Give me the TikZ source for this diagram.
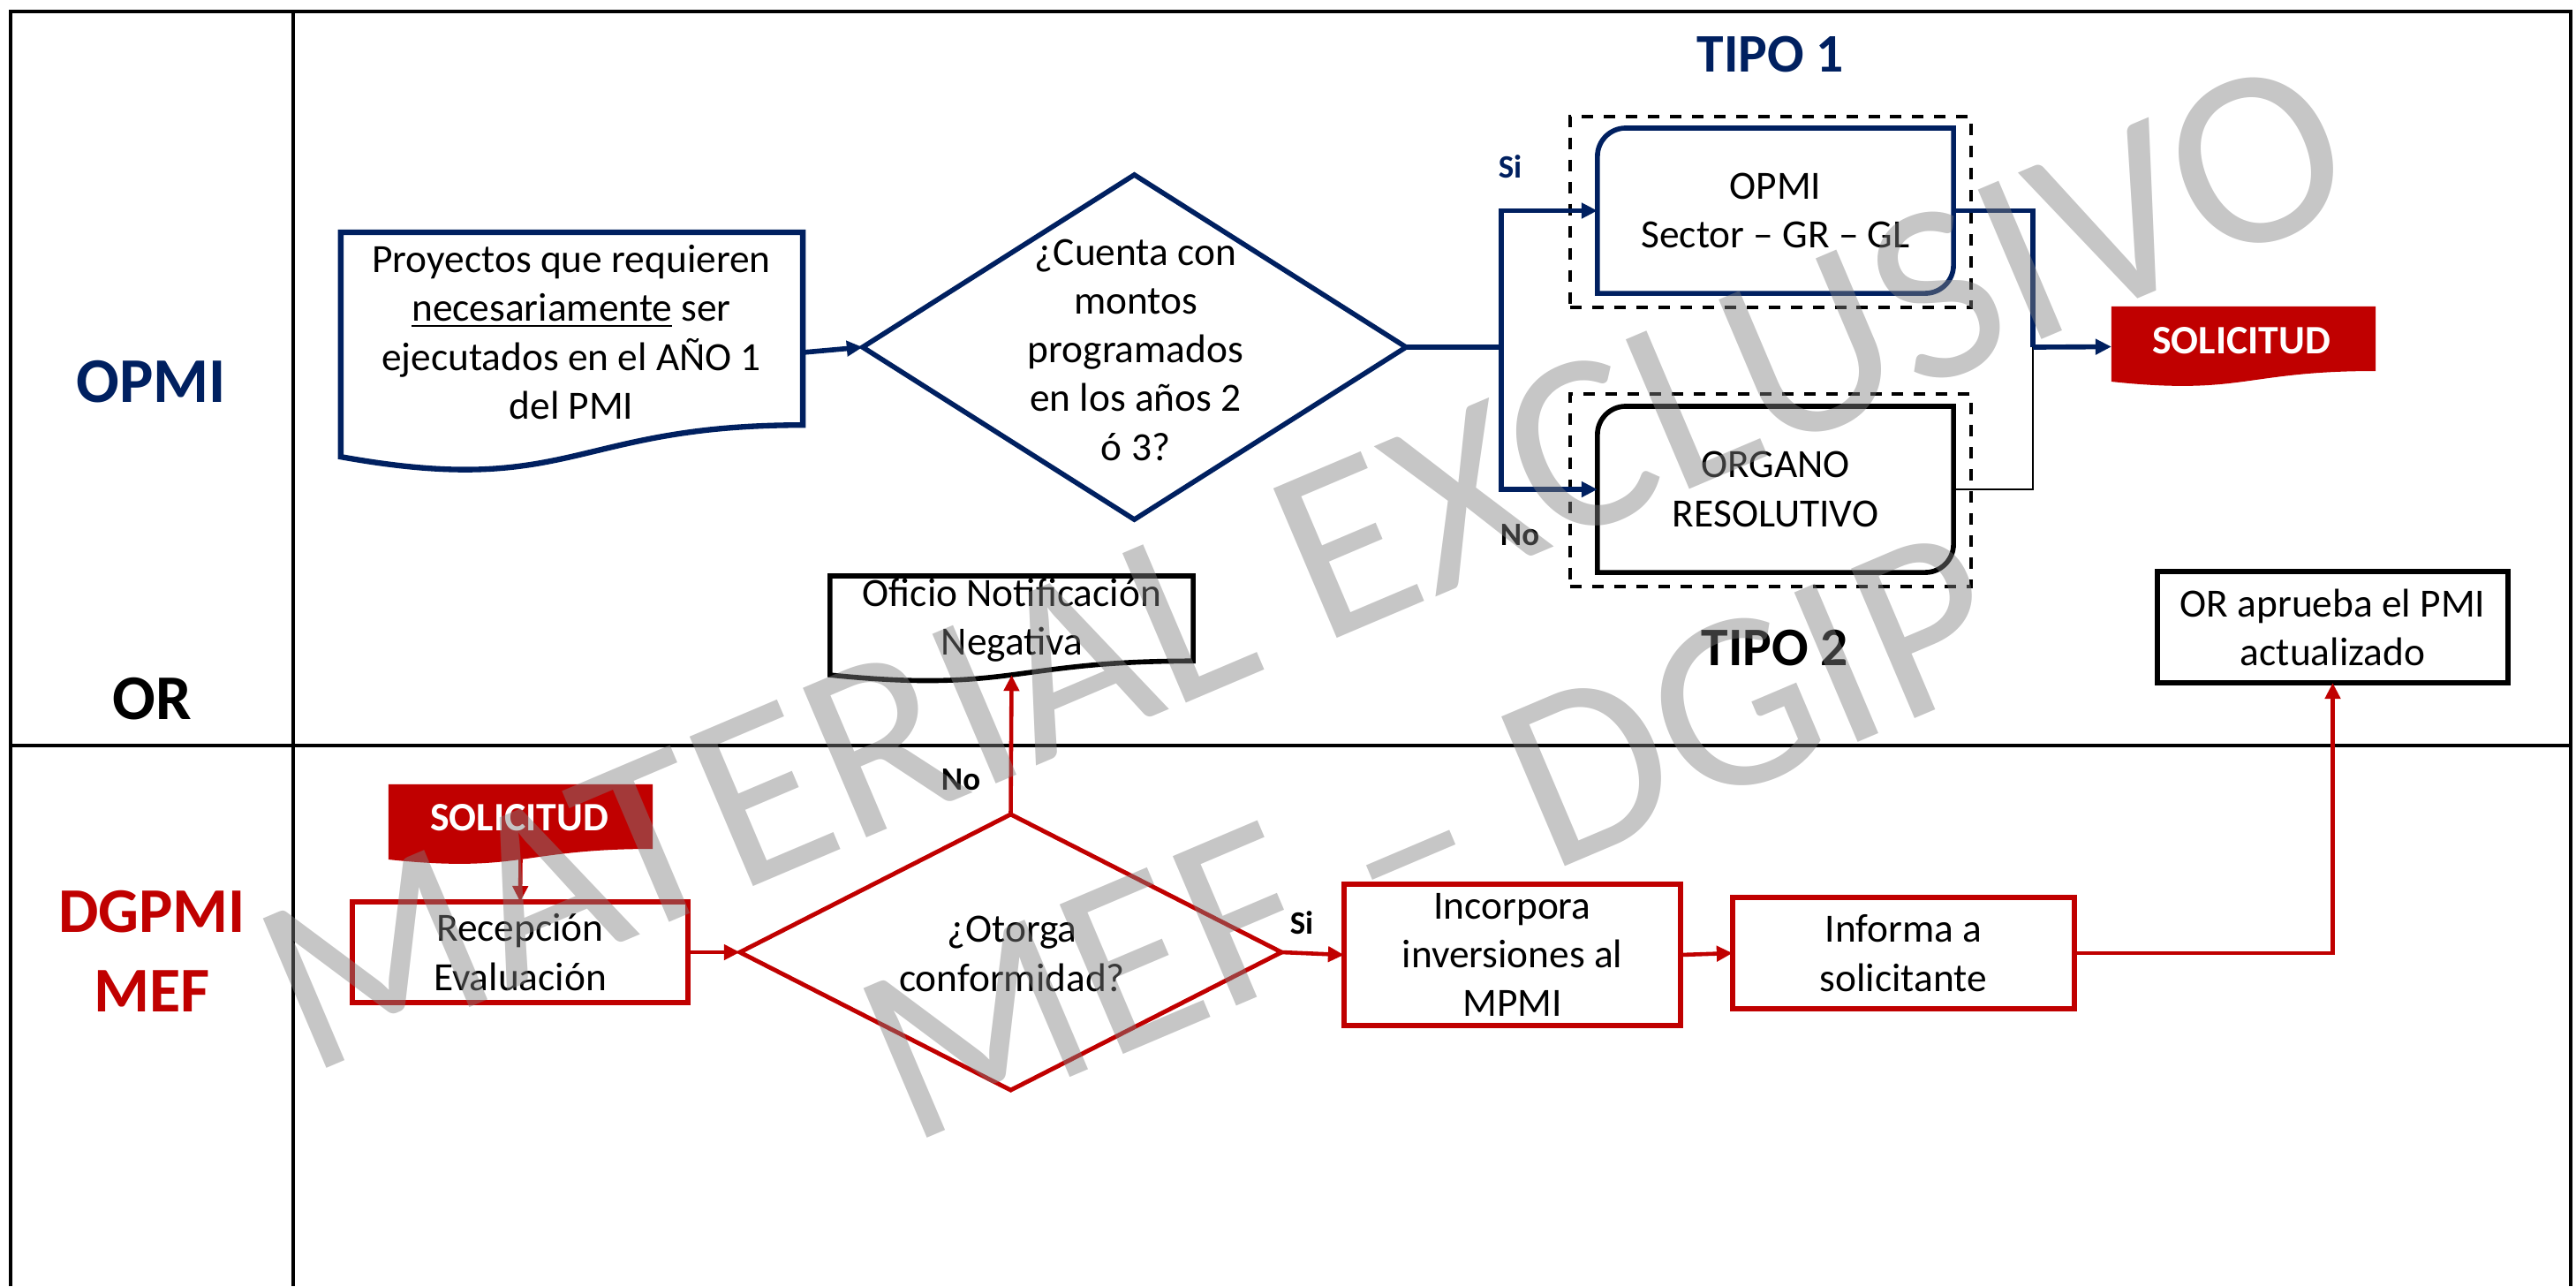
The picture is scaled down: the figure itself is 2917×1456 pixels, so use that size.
\documentclass[tikz,border=0pt]{standalone}
\usepackage{fontspec}
\setmainfont{Carlito}
\usetikzlibrary{arrows.meta,shapes.geometric,calc}
\definecolor{navy}{RGB}{0,32,96}
\definecolor{myred}{RGB}{192,0,0}
\definecolor{wmgray}{RGB}{128,128,128}
\newcommand\docpath[2]{\path[#1] (#2.north west) -- (#2.north east) -- ($(#2.north east)!0.802!(#2.south east)$) .. controls ($(#2.north)!0.802!(#2.south)$) and ($(#2.north)!1.1075!(#2.south)$) .. ($(#2.north west)!0.934!(#2.south west)$) -- cycle;}
\newcommand\rdiag[3]{\draw[#1] (#2.south west) -- ([yshift=-#3]#2.north west) arc[start angle=180,end angle=90,radius=#3] -- (#2.north east) -- ([yshift=#3]#2.south east) arc[start angle=0,end angle=-90,radius=#3] -- cycle;}
\begin{document}
\begin{tikzpicture}[x=0.01cm,y=-0.01cm,
  every node/.style={outer sep=0pt,inner sep=0pt},
  body/.style={font=\fontsize{12.9}{15.7}\selectfont,align=center},
  lab/.style={font=\bfseries\fontsize{10.5}{12}\selectfont},
  lane/.style={font=\bfseries\fontsize{20.5}{24}\selectfont},
  tipo/.style={font=\bfseries\fontsize{17.5}{20}\selectfont},
  soltxt/.style={font=\bfseries\fontsize{13}{15}\selectfont,text=white},
  nav/.style={draw=navy,line width=1.6pt},
  redl/.style={draw=myred,line width=1.3pt},
  tip/.style={-{Triangle[length=0.18cm,width=0.17cm]}},
  grid/.style={line width=0.9pt},
  dashbox/.style={draw,line width=1pt,dash pattern=on 3.7pt off 3.4pt},
  redbox/.style={draw=myred,line width=1.5pt,body},
  wm/.style={font=\fontsize{81.5}{98}\selectfont,text=wmgray,text opacity=0.45,anchor=base west,rotate=23.0}
]
\useasboundingbox (0,0) rectangle (2917,1456);
% lanes frame
\draw[grid] (12,1456) -- (12,13) -- (2911,13) -- (2911,1456);
\draw[grid] (332,13) -- (332,1456);
\draw[grid] (12,844) -- (2911,844);
% lane labels
\node[lane,text=navy] (lopmi) at (171,432) {OPMI};
\node[lane] (lor) at (172,791) {OR};
\node[lane,text=myred] (ldg) at (172,1032) {DGPMI};
\node[lane,text=myred] (lmef) at (172,1122) {MEF};
% top lane
\node[minimum width=5.23cm,minimum height=2.72cm] (doc1) at (647.5,399) {};
\docpath{draw=navy,line width=1.8pt}{doc1}
\node[body] (doc1t) at (647,376) {Proyectos que requieren\\\underline{necesariamente} ser\\ejecutados en el AÑO 1\\del PMI};
\node[diamond,draw=navy,line width=1.6pt,minimum width=6.15cm,minimum height=3.90cm] (dia1) at (1284.5,393) {};
\node[body] (dia1t) at (1286,396) {¿Cuenta con\\montos\\programados\\en los años 2\\ó 3?};
\node[tipo,text=navy] (t1) at (2005,62) {TIPO 1};
\node[tipo] (t2) at (2010,734) {TIPO 2};
\node[dashbox,minimum width=4.54cm,minimum height=2.16cm] (d1) at (2005,240) {};
\node[dashbox,minimum width=4.54cm,minimum height=2.18cm] (d2) at (2005,555) {};
\node[body,minimum width=4.03cm,minimum height=1.87cm] (opmi) at (2010.5,238.5) {OPMI\\Sector – GR – GL};
\rdiag{navy,line width=1.6pt}{opmi}{0.32cm}
\node[body,minimum width=4.03cm,minimum height=1.88cm] (org) at (2010.5,554) {ORGANO\\RESOLUTIVO};
\rdiag{black,line width=1.6pt}{org}{0.32cm}
\node[minimum width=2.99cm,minimum height=0.91cm] (sol1) at (2540.5,392.5) {};
\docpath{fill=myred}{sol1}
\node[soltxt] (sol1t) at (2538,386) {SOLICITUD};
\node[draw,line width=1.8pt,body,minimum width=3.97cm,minimum height=1.26cm] (orb) at (2641.5,710) {OR aprueba el PMI\\actualizado};
\coordinate (j1) at (1700,393);
\coordinate (j2) at (2302,393);
\draw[nav,tip] (doc1.east) -- (dia1.west);
\draw[nav] (dia1.east) -- (j1);
\draw[nav,tip] (j1) |- (opmi.west);
\draw[nav,tip] (j1) |- (org.west);
\draw[nav] (opmi.east) -| (j2);
\draw[line width=0.6pt] (org.east) -| (j2);
\draw[nav,tip] (j2) -- (sol1.west);
\node[lab,text=navy] (lsi1) at (1710,189) {Si};
\node[lab] (lno1) at (1721,606) {No};
% bottom lane
\node[minimum width=4.11cm,minimum height=1.20cm] (of) at (1145.5,712) {};
\docpath{draw,line width=1.6pt}{of}
\node[body] (oft) at (1146,702) {Oficio Notificación\\Negativa};
\node[minimum width=2.99cm,minimum height=0.91cm] (sol2) at (589.5,933.5) {};
\docpath{fill=myred}{sol2}
\node[soltxt] (sol2t) at (588,926) {SOLICITUD};
\node[redbox,minimum width=3.80cm,minimum height=1.14cm] (rec) at (589,1078) {Recepción\\Evaluación};
\node[diamond,draw=myred,line width=1.4pt,minimum width=6.13cm,minimum height=3.12cm] (dia2) at (1144.5,1078) {};
\node[body] (dia2t) at (1146,1080) {¿Otorga\\conformidad?};
\node[redbox,minimum width=3.81cm,minimum height=1.60cm] (inc) at (1712.5,1081) {Incorpora\\inversiones al\\MPMI};
\node[redbox,minimum width=3.87cm,minimum height=1.26cm] (inf) at (2155.5,1079) {Informa a\\solicitante};
\draw[redl,tip] ($(sol2.north)!0.93!(sol2.south)$) -- (rec.north);
\draw[redl,tip] (rec.east) -- (dia2.west);
\draw[redl,tip] (dia2.north) -- ($(of.north)!0.935!(of.south)$);
\draw[redl,tip] (dia2.east) -- (inc.west);
\draw[redl,tip] (inc.east) -- (inf.west);
\draw[redl,tip] (inf.east) -| (orb.south);
\node[lab] (lno2) at (1088,883) {No};
\node[lab] (lsi2) at (1474,1045) {Si};
% watermark
\node[wm] (wm1) at (348,1218) {MATERIAL EXCLUSIVO};
\node[wm] (wm2) at (1028,1297) {MEF – DGIP};
\end{tikzpicture}
\end{document}
